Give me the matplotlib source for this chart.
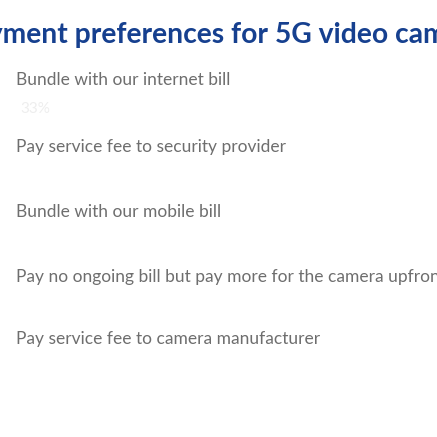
import matplotlib
matplotlib.use("Agg")
import matplotlib.pyplot as plt

title = "Payment preferences for 5G video cameras"
categories = [
    "Bundle with our internet bill",
    "Pay service fee to security provider",
    "Bundle with our mobile bill",
    "Pay no ongoing bill but pay more for the camera upfront",
    "Pay service fee to camera manufacturer",
]
# bars are still at the start of their animation (zero length); only the first value label is visible
progress = [0, 0, 0, 0, 0]
value_labels = ["33%", "", "", "", ""]

W = H = 437
FONT = "Lato"
fig = plt.figure(figsize=(W / 100, H / 100), dpi=100)
fig.patch.set_facecolor("white")

ax = fig.add_axes([16 / W, 0.0, 1 - 16 / W, 1.0])
ax.set_xlim(0, 100)
ax.set_ylim(H, 0)
ax.axis("off")

rows = [80, 147, 212, 277, 339]
bar_rows = [r + 29 for r in rows]

ax.barh(bar_rows, progress, height=18, left=0, color="#16408f")
for r, lab in zip(rows, categories):
    ax.text(0, r, lab, ha="left", va="center", fontsize=12.5, family=FONT,
            color="#6e6e6e", clip_on=False)
for r, v, vl in zip(bar_rows, progress, value_labels):
    if vl:
        ax.text(v + 1.0, r, vl, ha="left", va="center", fontsize=11,
                family=FONT, color="#eeeeee")

fig.canvas.draw()
renderer = fig.canvas.get_renderer()
probe = fig.text(0, 0, "Pay", fontsize=20.3, family=FONT, weight="bold")
w_pay = probe.get_window_extent(renderer).width
probe.remove()
fig.text((3 - w_pay) / W, 1 - 35 / H, title, ha="left", va="center",
         fontsize=20.3, family=FONT, weight="bold", color="#16408f")

fig.savefig("out.png", dpi=100, facecolor="white")
